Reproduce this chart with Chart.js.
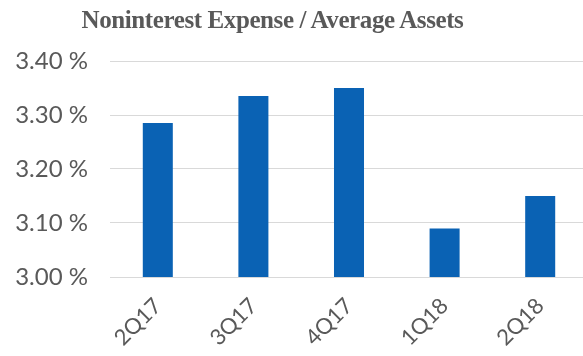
<!DOCTYPE html>
<html>
<head>
<meta charset="utf-8">
<script src="https://cdn.jsdelivr.net/npm/chart.js@4"></script>
<style>
	html, body { margin: 0; padding: 0; background: #fff; overflow: hidden; }
	#wrap { position: relative; width: 588px; height: 356px; }
	#title {
		position: absolute; left: 0; top: 6px; width: 545px; text-align: center;
		font: bold 25px 'Liberation Serif', serif; color: #595959; white-space: nowrap;
		letter-spacing: -0.4px;
	}
	#chart { position: absolute; left: 0; top: 0; }
</style>
</head>
<body>
<div id="wrap">
	<canvas id="chart" width="588" height="356"></canvas>
	<div id="title">Noninterest Expense / Average Assets</div>
</div>
<script>
const quarters = ['2Q17', '3Q17', '4Q17', '1Q18', '2Q18'];
const expenseRatio = [3.285, 3.335, 3.35, 3.09, 3.15];
const yTicks = [3.0, 3.1, 3.2, 3.3, 3.4];

const labelFont = { family: 'Lato, sans-serif', size: 24 };

new Chart(document.getElementById('chart'), {
	type: 'bar',
	data: {
		labels: quarters,
		datasets: [{
			data: expenseRatio,
			backgroundColor: '#0a62b4',
			barPercentage: 0.314,
			categoryPercentage: 1,
		}],
	},
	options: {
		responsive: false,
		animation: false,
		layout: { padding: { top: 61, right: 0, bottom: 0, left: 0 } },
		plugins: { legend: { display: false }, tooltip: { enabled: false } },
		scales: {
			x: {
				grid: { display: false, drawTicks: false },
				border: { display: true, color: '#d9d9d9' },
				ticks: {
					color: '#595959',
					font: { family: 'Lato, sans-serif', size: 22 },
					minRotation: 45,
					maxRotation: 45,
					padding: 16,
				},
				afterFit: (scale) => { scale.height = 79; },
			},
			y: {
				min: 3.0,
				max: 3.4,
				afterBuildTicks: (scale) => { scale.ticks = yTicks.map((v) => ({ value: v })); },
				grid: { color: '#d9d9d9', drawTicks: false },
				border: { display: false },
				ticks: {
					color: '#595959',
					font: labelFont,
					padding: 22,
					callback: (v) => v.toFixed(2) + ' %',
				},
				afterFit: (scale) => { scale.width = 110; },
			},
		},
	},
});
</script>
</body>
</html>
